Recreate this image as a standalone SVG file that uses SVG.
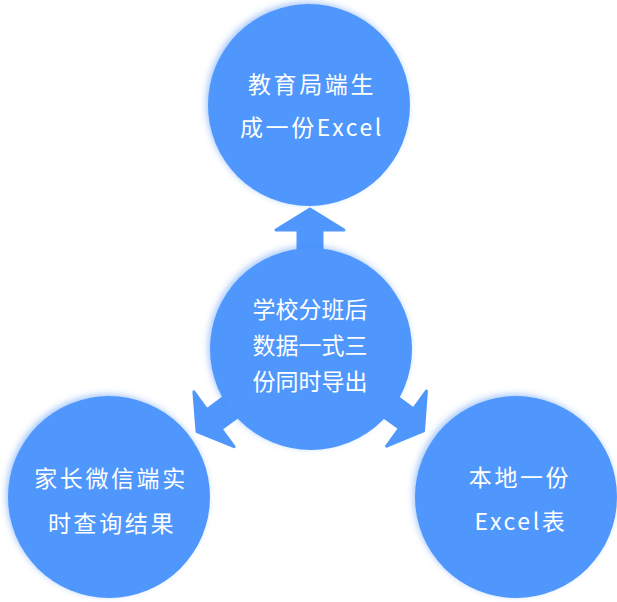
<svg xmlns="http://www.w3.org/2000/svg" width="617" height="602" viewBox="0 0 617 602">
<defs>
<filter id="glow" x="-20%" y="-20%" width="140%" height="140%">
<feDropShadow dx="-2" dy="-2" stdDeviation="3" flood-color="#3f86f5" flood-opacity="0.45"/>
</filter>
<path id="arr" d="M-12,-95 L-12,-119 L-34,-119 L0,-140 L34,-119 L12,-119 L12,-95 Z"/>
</defs>
<style>
.c{fill:#4f97fd;filter:url(#glow)}
.a{fill:#4f97fd;stroke:#4f97fd;stroke-width:3;stroke-linejoin:round}
.t{fill:#ffffff;font-family:"Noto Sans CJK SC","Noto Sans",sans-serif;font-size:23px;text-anchor:middle;letter-spacing:2.6px}
.tc{letter-spacing:0px}
</style>
<g id="connectors" transform="translate(310,349)">
<use href="#arr" class="a"/>
<use href="#arr" class="a" transform="rotate(-126.2)"/>
<use href="#arr" class="a" transform="rotate(125.8)"/>
</g>
<g id="top">
<circle class="c" cx="309" cy="105" r="101"/>
<text class="t" x="312" y="93">教育局端生</text>
<text class="t" x="312" y="136">成一份Excel</text>
</g>
<g id="center">
<circle class="c" cx="311" cy="349" r="101"/>
<text class="t tc" x="310" y="318">学校分班后</text>
<text class="t tc" x="310" y="354">数据一式三</text>
<text class="t tc" x="310" y="390">份同时导出</text>
</g>
<g id="left">
<circle class="c" cx="109" cy="497" r="101"/>
<text class="t" x="111" y="487">家长微信端实</text>
<text class="t" x="112" y="532">时查询结果</text>
</g>
<g id="right">
<circle class="c" cx="516" cy="497" r="101"/>
<text class="t" x="520" y="486">本地一份</text>
<text class="t" x="521" y="530">Excel表</text>
</g>
</svg>
